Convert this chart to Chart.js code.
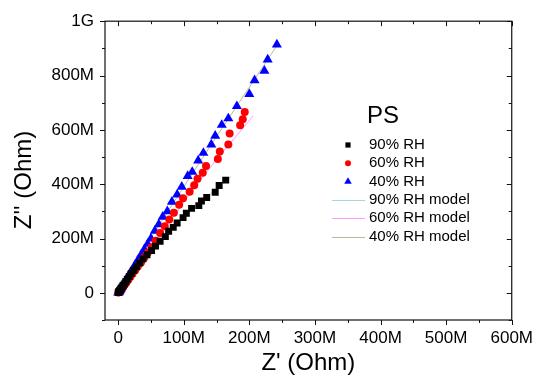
<!DOCTYPE html>
<html>
<head>
<meta charset="utf-8">
<script src="https://cdn.jsdelivr.net/npm/chart.js@4.4.0/dist/chart.umd.min.js"></script>
<style>
  body { margin: 0; background: #fff; }
</style>
</head>
<body>
<canvas id="nyquist" width="541" height="383"></canvas>
<script>
"use strict";

// all impedance values in MOhm
var re90 = [164, 154, 148, 135, 127, 123, 112, 104, 99, 90, 84, 77, 72, 64, 57, 51, 44, 38, 33, 28, 24, 20, 17, 14, 11.5, 9.3, 7.5, 6, 4.7, 3.7, 2.8, 2.1, 1.5, 1, 0.6, 0.3];
var im90 = [415, 395, 370, 351, 338, 321, 311, 293, 277, 257, 241, 227, 207, 190, 172, 156, 140, 125, 110, 96, 83, 71, 60, 50, 41, 33, 27, 21.5, 17, 13, 10, 7.5, 5.3, 3.6, 2.2, 1.1];

var re60 = [193, 190, 186, 170, 168, 155, 152, 134, 129, 121, 116, 109, 99, 93, 85, 78, 71, 64, 57, 51, 45, 40, 35, 30, 26, 22, 18.5, 15.5, 12.8, 10.5, 8.5, 6.8, 5.4, 4.2, 3.2, 2.4, 1.7, 1.1, 0.7, 0.4];
var im60 = [666, 639, 617, 587, 546, 520, 493, 467, 442, 420, 396, 372, 348, 324, 295, 270, 245, 220, 192, 168, 148, 130, 113, 97, 83, 70, 58, 48, 39, 32, 25.5, 20, 15.5, 12, 9, 6.5, 4.5, 3, 1.8, 1];

var re40 = [242, 228, 223, 208, 200, 181, 168, 158, 148, 142, 130, 122, 113, 106, 97, 90, 82, 75, 68, 62, 56, 50, 45, 40, 35, 30, 26, 22, 18, 15, 12, 9.5, 7.5, 5.8, 4.4, 3.2, 2.3, 1.6, 1, 0.6, 0.3];
var im40 = [914, 859, 817, 782, 732, 687, 642, 618, 578, 546, 515, 487, 445, 430, 390, 362, 335, 300, 280, 252, 228, 200, 180, 160, 140, 120, 103, 87, 72, 59, 47, 37, 29, 22, 16, 11, 7.5, 5, 3, 1.5, 0.7];

// fitted model curves
var re90m = [0, 10, 30, 80, 130, 172];
var im90m = [0, 36, 102, 236, 342, 428];
var re60m = [0, 20, 60, 130, 206];
var im60m = [0, 68, 200, 430, 652];
var re40m = [0, 20, 60, 150, 244];
var im40m = [0, 82, 240, 575, 917];

var xTickValues = [0, 100, 200, 300, 400, 500, 600];
var xTickLabels = ['0', '100M', '200M', '300M', '400M', '500M', '600M'];
var yTickValues = [0, 200, 400, 600, 800, 1000];
var yTickLabels = ['0', '200M', '400M', '600M', '800M', '1G'];

var seriesNames = ['90% RH', '60% RH', '40% RH'];
var modelNames = ['90% RH model', '60% RH model', '40% RH model'];
var legendTitle = 'PS';
var xTitle = "Z' (Ohm)";
var yTitle = "Z'' (Ohm)";

var MEGA = 1e6;
var FONT = "'Liberation Sans', Arial, sans-serif";

function toPoints(xs, ys) {
  return xs.map(function (x, i) { return { x: x * MEGA, y: ys[i] * MEGA }; });
}

function tickLabel(values, labels) {
  return function (v) {
    var i = values.indexOf(Math.round(v / MEGA));
    if (i < 0 || Math.abs(v / MEGA - values[i]) > 0.01) return '';
    return labels[i];
  };
}

// major + minor tick positions (minor ones get an empty label)
function buildTicks(from, to, step) {
  return function (scale) {
    var t = [];
    for (var v = from; v <= to; v += step) t.push({ value: v * MEGA });
    scale.ticks = t;
  };
}

var markerSet = [
  { name: seriesNames[0], re: re90, im: im90, style: 'rect', r: 4.9, color: '#000000' },
  { name: seriesNames[1], re: re60, im: im60, style: 'circle', r: 4, color: '#ff0000' },
  { name: seriesNames[2], re: re40, im: im40, style: 'triangle', r: 5.8, color: '#0000ff' }
];
var modelSet = [
  { name: modelNames[0], re: re90m, im: im90m, color: '#9fd8d8' },
  { name: modelNames[1], re: re60m, im: im60m, color: '#ff99ff' },
  { name: modelNames[2], re: re40m, im: im40m, color: '#bdb98e' }
];

var datasets = [];
markerSet.forEach(function (s) {
  datasets.push({
    label: s.name,
    data: toPoints(s.re, s.im),
    showLine: false,
    pointStyle: s.style,
    pointRadius: s.r,
    pointBackgroundColor: s.color,
    pointBorderColor: s.color,
    pointBorderWidth: 0,
    order: 1
  });
});
modelSet.forEach(function (s) {
  datasets.push({
    label: s.name,
    data: toPoints(s.re, s.im),
    showLine: true,
    pointRadius: 0,
    borderColor: s.color,
    borderWidth: 1,
    tension: 0.3,
    order: 2
  });
});

// box, ticks on all four sides, axis titles and the in-plot legend
var framePlugin = {
  id: 'frame',
  afterDraw: function (chart) {
    var ctx = chart.ctx, a = chart.chartArea;
    var xs = chart.scales.x, ys = chart.scales.y;
    ctx.save();
    ctx.strokeStyle = '#111';
    ctx.lineWidth = 1.2;
    ctx.strokeRect(a.left, a.top, a.right - a.left, a.bottom - a.top);

    ctx.beginPath();
    xs.ticks.forEach(function (t) {
      var len = t.label ? 5 : 3;
      var px = Math.round(xs.getPixelForValue(t.value)) + 0.5;
      ctx.moveTo(px, a.bottom); ctx.lineTo(px, a.bottom + len);
      ctx.moveTo(px, a.top); ctx.lineTo(px, a.top + len);
    });
    ys.ticks.forEach(function (t) {
      var len = t.label ? 5 : 3;
      var py = Math.round(ys.getPixelForValue(t.value)) + 0.5;
      ctx.moveTo(a.left, py); ctx.lineTo(a.left - len, py);
      ctx.moveTo(a.right, py); ctx.lineTo(a.right - len, py);
    });
    ctx.lineWidth = 1;
    ctx.stroke();

    // axis titles
    ctx.fillStyle = '#000';
    ctx.font = '24px ' + FONT;
    ctx.textAlign = 'center';
    ctx.textBaseline = 'alphabetic';
    ctx.fillText(xTitle, (a.left + a.right) / 2, 370);
    ctx.save();
    ctx.translate(31, 180);
    ctx.rotate(-Math.PI / 2);
    ctx.fillText(yTitle, 0, 0);
    ctx.restore();

    // legend
    ctx.textAlign = 'left';
    ctx.font = '24px ' + FONT;
    ctx.fillText(legendTitle, 367, 123);
    ctx.font = '15px ' + FONT;
    ctx.textBaseline = 'middle';
    var rowY = 145, rowH = 18.3;
    markerSet.forEach(function (s, i) {
      var y = rowY + i * rowH;
      ctx.fillStyle = s.color;
      ctx.strokeStyle = s.color;
      Chart.helpers.drawPoint(ctx, { pointStyle: s.style, radius: s.r * 0.75, rotation: 0, borderWidth: 0 }, 348, y);
      ctx.fillStyle = '#000';
      ctx.fillText(s.name, 369, y);
    });
    modelSet.forEach(function (s, i) {
      var y = rowY + (i + 3) * rowH;
      ctx.strokeStyle = s.color;
      ctx.lineWidth = 1.2;
      ctx.beginPath();
      ctx.moveTo(332, Math.round(y) + 0.5);
      ctx.lineTo(365, Math.round(y) + 0.5);
      ctx.stroke();
      ctx.fillStyle = '#000';
      ctx.fillText(s.name, 369, y);
    });
    ctx.restore();
  }
};

new Chart(document.getElementById('nyquist'), {
  type: 'scatter',
  data: { datasets: datasets },
  plugins: [framePlugin],
  options: {
    responsive: false,
    animation: false,
    layout: { padding: { left: 0, right: 22, top: 16, bottom: 0 } },
    plugins: {
      legend: { display: false },
      tooltip: { enabled: false }
    },
    scales: {
      x: {
        type: 'linear',
        min: -20 * MEGA,
        max: 600 * MEGA,
        afterBuildTicks: buildTicks(0, 600, 50),
        afterFit: function (scale) { scale.height = 63; },
        grid: { display: false, drawTicks: false },
        border: { display: false },
        ticks: {
          autoSkip: false,
          maxRotation: 0,
          padding: 8,
          color: '#000',
          font: { family: FONT, size: 17 },
          callback: tickLabel(xTickValues, xTickLabels)
        }
      },
      y: {
        type: 'linear',
        min: -100 * MEGA,
        max: 1000 * MEGA,
        afterBuildTicks: buildTicks(-100, 1000, 100),
        afterFit: function (scale) { scale.width = 105; },
        grid: { display: false, drawTicks: false },
        border: { display: false },
        ticks: {
          autoSkip: false,
          padding: 11,
          color: '#000',
          font: { family: FONT, size: 17 },
          callback: tickLabel(yTickValues, yTickLabels)
        }
      }
    }
  }
});
</script>
</body>
</html>
